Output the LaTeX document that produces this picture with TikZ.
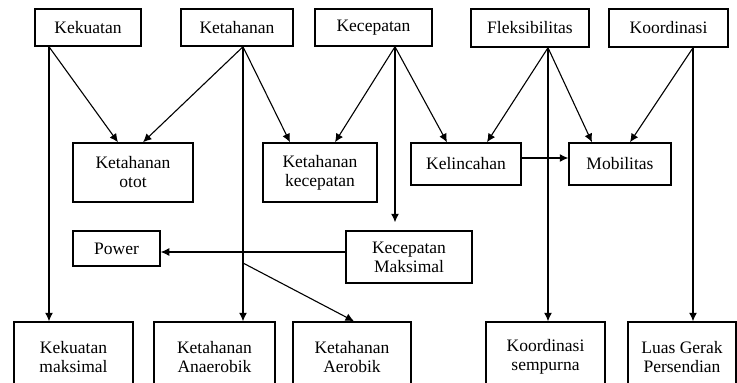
\documentclass[tikz,border=0pt]{standalone}
\usepackage{fontspec}
\setmainfont{Liberation Serif}
\usetikzlibrary{arrows.meta}
\begin{document}
\begin{tikzpicture}[x=1pt,y=-1pt,
  box/.style={draw, line width=1.5pt, rectangle, align=center, inner sep=0pt,
    font=\fontsize{17.5}{19}\selectfont},
  conn/.style={line width=1.1pt, -{Latex[length=8.5pt,width=8pt]}}]
\useasboundingbox (0,0) rectangle (737,383);
\clip (0,0) rectangle (737,383);
% top row
\node[box, minimum width=106pt, minimum height=37pt] (kek) at (88,27.5) {Kekuatan};
\node[box, minimum width=112pt, minimum height=37pt] (ket) at (237,27.5) {Ketahanan};
\node[box, minimum width=117pt, minimum height=37pt] (kec) at (373.5,27.5) {Kecepatan};
\node[box, minimum width=118pt, minimum height=38pt] (fle) at (530,28) {Fleksibilitas};
\node[box, minimum width=119pt, minimum height=38pt] (koo) at (668.5,28) {Koordinasi};
% middle row
\node[box, minimum width=120pt, minimum height=59pt] (ko) at (133,172.5) {Ketahanan\\otot};
\node[box, minimum width=114pt, minimum height=59pt] (kk) at (320,172.5) {Ketahanan\\kecepatan};
\node[box, minimum width=110pt, minimum height=42pt] (kel) at (466,164) {Kelincahan};
\node[box, minimum width=102pt, minimum height=42pt] (mob) at (620,164) {Mobilitas};
\node[box, minimum width=87pt, minimum height=35pt] (pow) at (116.5,248.5) {Power};
\node[box, minimum width=126pt, minimum height=52pt] (km) at (409,257) {Kecepatan\\Maksimal};
% bottom row
\node[box, minimum width=119pt, minimum height=70pt] (kma) at (73.5,357) {Kekuatan\\maksimal};
\node[box, minimum width=121pt, minimum height=70pt] (ana) at (214.5,357) {Ketahanan\\Anaerobik};
\node[box, minimum width=118pt, minimum height=70pt] (aer) at (352,357) {Ketahanan\\Aerobik};
\node[box, minimum width=119pt, minimum height=70pt] (kse) at (545.5,357) {Koordinasi\\sempurna};
\node[box, minimum width=108pt, minimum height=70pt] (lgp) at (682,357) {Luas Gerak\\Persendian};
% connectors
\draw[conn] ([xshift=-39pt]kek.south) -- ([xshift=-24.5pt]kma.north);
\draw[conn] ([xshift=-39pt]kek.south) -- ([xshift=-15pt]ko.north);
\draw[conn] ([xshift=6pt]ket.south) -- ([xshift=10pt]ko.north);
\draw[conn] ([xshift=6pt]ket.south) -- ([xshift=28.5pt]ana.north);
\draw[conn] ([xshift=6pt]ket.south) -- ([xshift=-30pt]kk.north);
\coordinate (branch) at (243,263);
\draw[conn] (branch) -- ([xshift=2pt]aer.north);
\draw[conn] ([xshift=21.5pt]kec.south) -- ([xshift=15pt]kk.north);
\draw[conn] ([xshift=21.5pt]kec.south) -- ([xshift=-19pt]kel.north);
\draw[conn, shorten >=8pt] ([xshift=21.5pt]kec.south) -- ([xshift=-14pt]km.north);
\draw[conn] ([xshift=18pt]fle.south) -- ([xshift=21pt]kel.north);
\draw[conn] ([xshift=18pt]fle.south) -- ([xshift=-28pt]mob.north);
\draw[conn] ([xshift=18pt]fle.south) -- ([xshift=2.5pt]kse.north);
\draw[conn] ([xshift=24.5pt]koo.south) -- ([xshift=10pt]mob.north);
\draw[conn] ([xshift=24.5pt]koo.south) -- ([xshift=11pt]lgp.north);
\draw[conn] ([yshift=6pt]kel.east) -- ([yshift=6pt]mob.west);
\draw[conn] ([yshift=5pt]km.west) -- ([yshift=-3.5pt]pow.east);
\end{tikzpicture}
\end{document}
